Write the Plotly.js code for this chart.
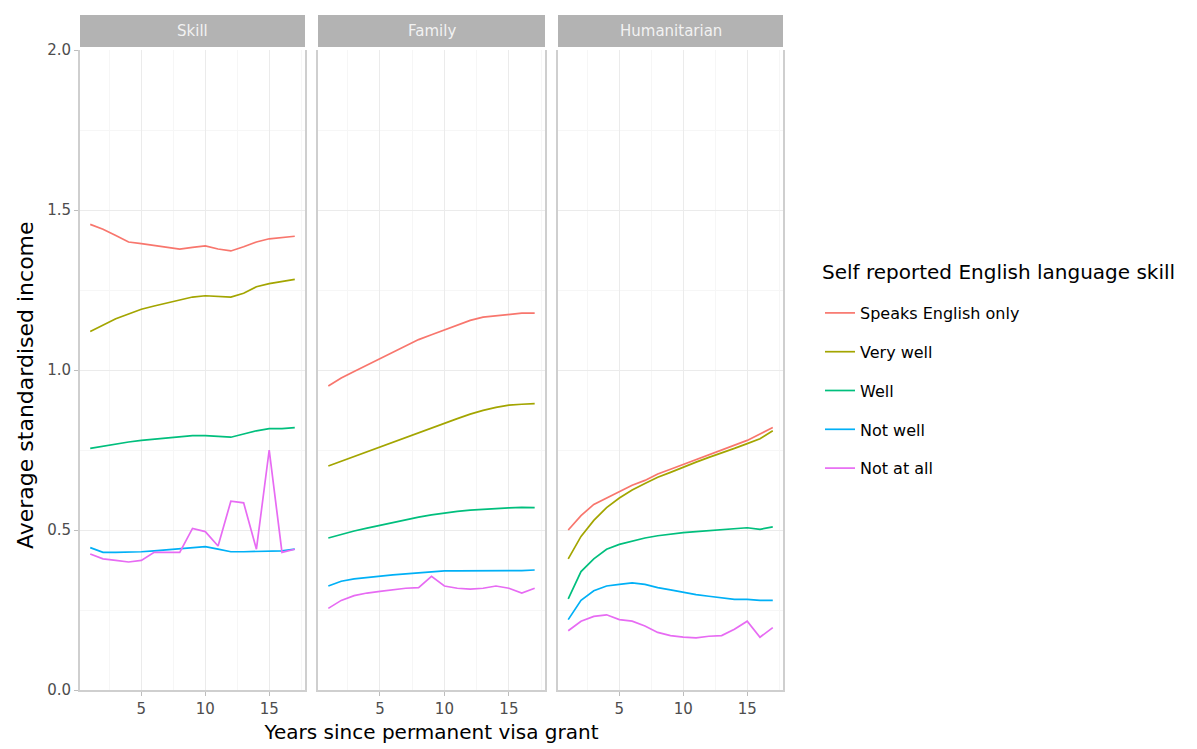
<!DOCTYPE html>
<html>
<head>
<meta charset="utf-8">
<script src="https://cdn.plot.ly/plotly-3.0.1.min.js"></script>
<style>html,body{margin:0;padding:0;background:#fff}#chart{width:1197px;height:749px}</style>
</head>
<body>
<div id="chart"></div>
<script>
// ---- data ----
const years = [1,2,3,4,5,6,7,8,9,10,11,12,13,14,15,16,17];
const facets = ["Skill", "Family", "Humanitarian"];
const seriesNames = ["Speaks English only", "Very well", "Well", "Not well", "Not at all"];
const seriesColors = ["#F8766D", "#A3A500", "#00BF7D", "#00B0F6", "#E76BF3"];
const legendTitle = "Self reported English language skill";
const xTitle = "Years since permanent visa grant";
const yTitle = "Average standardised income";

// Skill
const skillEnglishOnly = [1.455,1.44,1.42,1.40,1.395,1.39,1.385,1.378,1.383,1.388,1.378,1.372,1.385,1.40,1.41,1.415,1.418];
const skillVeryWell    = [1.12,1.14,1.16,1.175,1.19,1.20,1.21,1.22,1.228,1.232,1.23,1.228,1.24,1.26,1.27,1.277,1.283];
const skillWell        = [0.755,0.762,0.768,0.775,0.78,0.784,0.788,0.792,0.795,0.795,0.792,0.79,0.80,0.81,0.817,0.817,0.82];
const skillNotWell     = [0.445,0.43,0.43,0.43,0.432,0.435,0.438,0.44,0.445,0.448,0.44,0.432,0.432,0.433,0.435,0.435,0.44];
const skillNotAtAll    = [0.425,0.41,0.405,0.40,0.405,0.43,0.43,0.43,0.505,0.495,0.45,0.59,0.585,0.44,0.75,0.43,0.44];
// Family
const famEnglishOnly = [0.95,0.975,0.995,1.015,1.035,1.055,1.075,1.095,1.11,1.125,1.14,1.155,1.165,1.17,1.175,1.178,1.178];
const famVeryWell    = [0.70,0.715,0.73,0.745,0.76,0.775,0.79,0.805,0.82,0.833,0.848,0.862,0.874,0.883,0.89,0.893,0.895];
const famWell        = [0.475,0.487,0.497,0.506,0.515,0.524,0.532,0.54,0.547,0.553,0.558,0.562,0.565,0.567,0.569,0.571,0.57];
const famNotWell     = [0.325,0.34,0.347,0.352,0.356,0.36,0.363,0.366,0.37,0.372,0.372,0.372,0.372,0.372,0.373,0.373,0.375];
const famNotAtAll    = [0.255,0.28,0.295,0.303,0.308,0.313,0.318,0.32,0.355,0.325,0.318,0.315,0.318,0.325,0.318,0.303,0.318];
// Humanitarian
const humEnglishOnly = [0.50,0.545,0.58,0.60,0.62,0.64,0.655,0.675,0.69,0.705,0.72,0.735,0.75,0.765,0.78,0.80,0.82];
const humVeryWell    = [0.41,0.48,0.53,0.57,0.60,0.625,0.645,0.665,0.68,0.697,0.712,0.727,0.74,0.755,0.77,0.785,0.81];
const humWell        = [0.285,0.37,0.41,0.44,0.455,0.465,0.475,0.482,0.488,0.492,0.495,0.498,0.50,0.503,0.507,0.502,0.51];
const humNotWell     = [0.22,0.28,0.31,0.325,0.33,0.335,0.33,0.32,0.313,0.305,0.298,0.293,0.288,0.283,0.283,0.28,0.28];
const humNotAtAll    = [0.185,0.215,0.23,0.235,0.22,0.215,0.20,0.18,0.17,0.165,0.163,0.168,0.17,0.19,0.215,0.165,0.195];

const xTickVals = [5, 10, 15];
const yTickVals = [0, 0.5, 1.0, 1.5, 2.0];
const yTickText = ["0.0", "0.5", "1.0", "1.5", "2.0"];

const panelData = [
  [skillEnglishOnly, skillVeryWell, skillWell, skillNotWell, skillNotAtAll],
  [famEnglishOnly, famVeryWell, famWell, famNotWell, famNotAtAll],
  [humEnglishOnly, humVeryWell, humWell, humNotWell, humNotAtAll]
];

// ---- traces ----
const traces = [];
panelData.forEach((panel, p) => {
  panel.forEach((vals, s) => {
    traces.push({
      type: "scatter", mode: "lines",
      x: years, y: vals,
      name: seriesNames[s],
      legendgroup: seriesNames[s],
      showlegend: p === 0,
      line: {color: seriesColors[s], width: 1.7},
      xaxis: p === 0 ? "x" : "x" + (p + 1),
      yaxis: p === 0 ? "y" : "y" + (p + 1),
      hovertemplate: facets[p] + "<br>%{x}: %{y:.3f}<extra>" + seriesNames[s] + "</extra>"
    });
  });
});

// ---- layout ----
const W = 1197, H = 749;
const mL = 80, mR = 414, mT = 50, mB = 59;
const plotW = W - mL - mR, plotH = H - mT - mB;
const panelPx = [[80, 305], [318, 545], [558, 783]];
const domains = panelPx.map(([a, b]) => [(a - mL) / plotW, (b - mL) / plotW]);
const px2x = px => (px - mL) / plotW;
const px2y = py => 1 - (py - mT) / plotH;

const font = "DejaVu Sans, Verdana, sans-serif";
const gridMajor = "#EBEBEB", gridMinor = "#F6F6F6";

function xAxis(i) {
  return {
    domain: domains[i], range: [0.2, 17.8], anchor: i === 0 ? "y" : "y" + (i + 1),
    tickvals: xTickVals, ticks: "outside", ticklen: 4, tickcolor: "#BDBDBD",
    tickfont: {family: font, size: 15, color: "#4D4D4D"},
    showgrid: true, gridcolor: gridMajor, gridwidth: 1,
    minor: {tickvals: [2.5, 7.5, 12.5, 17.5], showgrid: true, gridcolor: gridMinor},
    showline: true, linecolor: "#CFCFCF", linewidth: 1.5,
    zeroline: false, fixedrange: true
  };
}
function yAxis(i) {
  return {
    domain: [0, 1], range: [0, 2], anchor: i === 0 ? "x" : "x" + (i + 1),
    tickvals: yTickVals, ticktext: yTickText, showticklabels: i === 0,
    ticks: i === 0 ? "outside" : "", ticklen: 4, tickcolor: "#BDBDBD",
    tickfont: {family: font, size: 15, color: "#4D4D4D"},
    showgrid: true, gridcolor: gridMajor, gridwidth: 1,
    minor: {tickvals: [0.25, 0.75, 1.25, 1.75], showgrid: true, gridcolor: gridMinor},
    showline: true, mirror: true, linecolor: "#CFCFCF", linewidth: 2,
    zeroline: false, fixedrange: true,
    matches: i === 0 ? undefined : "y"
  };
}

const layout = {
  width: W, height: H,
  margin: {l: mL, r: mR, t: mT, b: mB},
  paper_bgcolor: "#FFFFFF", plot_bgcolor: "#FFFFFF",
  font: {family: font, color: "#000"},
  showlegend: true,
  legend: {
    x: px2x(820), xanchor: "left", y: px2y(296), yanchor: "top",
    font: {family: font, size: 16, color: "#000"},
    tracegroupgap: 15, bgcolor: "rgba(0,0,0,0)"
  },
  shapes: [],
  annotations: [
    {xref: "paper", yref: "paper", x: px2x(820), y: px2y(272), xanchor: "left", yanchor: "middle",
     text: legendTitle, showarrow: false, font: {family: font, size: 20, color: "#000"}},
    {xref: "paper", yref: "paper", x: px2x(25), y: px2y(385), xanchor: "center", yanchor: "middle",
     textangle: -90, text: yTitle, showarrow: false, font: {family: font, size: 22, color: "#000"}}
  ]
};
for (let i = 0; i < 3; i++) {
  const xs = i === 0 ? "" : String(i + 1);
  layout["xaxis" + xs] = xAxis(i);
  layout["yaxis" + xs] = yAxis(i);
  layout.shapes.push({
    type: "rect", xref: "paper", yref: "paper",
    x0: domains[i][0], x1: domains[i][1],
    y0: 1 + 3 / plotH, y1: 1 + 35 / plotH,
    fillcolor: "#B3B3B3", line: {width: 0}, layer: "above"
  });
  layout.annotations.push({
    xref: "paper", yref: "paper",
    x: (domains[i][0] + domains[i][1]) / 2, y: 1 + 19 / plotH,
    text: facets[i], showarrow: false, xanchor: "center", yanchor: "middle",
    font: {family: font, size: 15, color: "#F2F2F2"}
  });
}
layout.xaxis2.title = {text: xTitle, font: {family: font, size: 20, color: "#000"}, standoff: 8};

Plotly.newPlot("chart", traces, layout, {displayModeBar: false, responsive: false});
</script>
</body>
</html>
